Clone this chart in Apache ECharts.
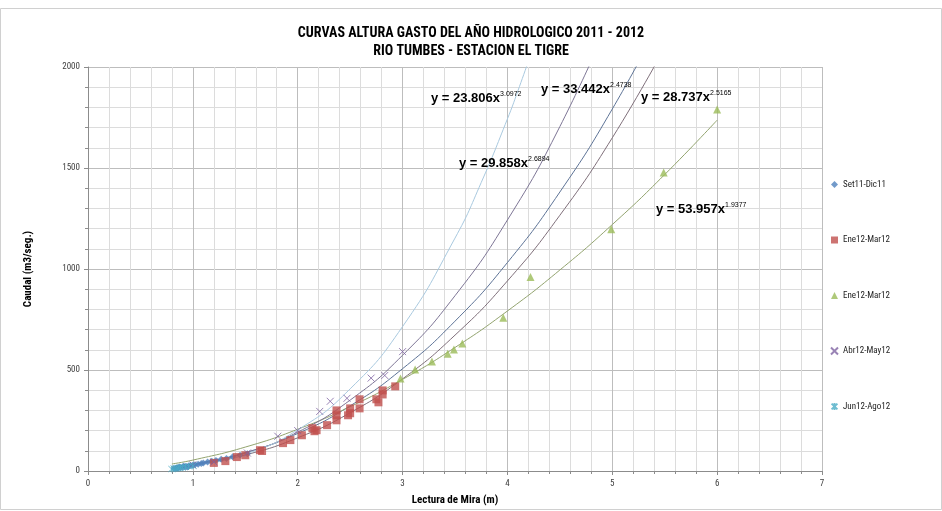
<!DOCTYPE html>
<html>
<head>
<meta charset="utf-8">
<script src="https://cdn.jsdelivr.net/npm/echarts@6/dist/echarts.min.js"></script>
<style>
html,body{margin:0;padding:0;background:#fff;}
#chart{width:942px;height:511px;}
</style>
</head>
<body>
<div id="chart"></div>
<script>
// ---- Data ----
const titleLines = ['CURVAS ALTURA GASTO DEL AÑO HIDROLOGICO 2011 - 2012', 'RIO TUMBES - ESTACION EL TIGRE'];
const xAxisName = 'Lectura de Mira (m)';
const yAxisName = 'Caudal (m3/seg.)';
const xTicks = [0, 1, 2, 3, 4, 5, 6, 7];
const yTicks = [0, 500, 1000, 1500, 2000];

const seriesNames = ['Set11-Dic11', 'Ene12-Mar12', 'Ene12-Mar12 ', 'Abr12-May12', 'Jun12-Ago12'];

const setDic = [[0.82,12],[0.84,14],[0.85,16],[0.86,15],[0.87,20],[0.88,17],[0.9,19],[0.91,24],[0.92,21],[0.94,22],[0.95,20],[0.96,25],[0.98,27],[1.0,29],[1.02,31],[1.05,34],[1.08,37],[1.1,40],[1.14,44],[1.18,48],[1.22,52],[1.27,58],[1.32,62],[1.38,70],[1.45,78],[1.52,85]];
const eneMarA = [[1.2,40],[1.31,49],[1.42,69],[1.5,78],[1.64,103],[1.66,99],[1.86,138],[1.93,153],[2.04,177],[2.14,212],[2.16,197],[2.18,202],[2.28,227],[2.37,300],[2.37,276],[2.37,251],[2.48,276],[2.5,310],[2.5,286],[2.59,355],[2.59,310],[2.75,355],[2.77,340],[2.81,399],[2.81,379],[2.93,419]];
const eneMarB = [[2.98,458],[3.12,502],[3.28,542],[3.43,581],[3.49,601],[3.57,631],[3.96,759],[4.22,960],[4.99,1197],[5.49,1478],[6.0,1790]];
const abrMay = [[1.0,30],[1.2,45],[1.52,89],[1.81,172],[2.0,200],[2.21,295],[2.31,345],[2.47,360],[2.7,460],[2.83,473],[3.0,591]];
const junAgo = [[0.8,10],[0.82,12],[0.84,13],[0.86,15],[0.88,17],[0.9,18],[0.93,20],[0.96,23],[1.0,26]];

// trend curves
const trendSetDic = [[0.8,19.3],[1,33.4],[1.5,91.2],[2,185.8],[2.5,322.6],[3,506.5],[3.5,741.7],[4,1032],[4.5,1381],[5,1792],[5.5,2268]];
const trendEneMarA = [[0.8,16.4],[1,28.7],[1.5,79.7],[2,164.4],[2.5,288.3],[3,456.1],[3.5,672.5],[4,940.9],[4.5,1265.9],[5,1649.5],[5.5,2096]];
const trendEneMarB = [[0.8,35],[1,54],[1.5,118.4],[2,206.7],[2.5,318.5],[3,453.5],[3.5,611.4],[4,792.1],[4.5,995],[5,1220],[5.5,1467.6],[6,1737]];
const trendAbrMay = [[0.8,16.4],[1,29.9],[1.5,88.8],[2,192.6],[2.5,351],[3,573],[3.5,867.7],[4,1242.7],[4.5,1705],[5,2264]];
const trendJunAgo = [[0.8,11.9],[1,23.8],[1.5,83.6],[2,203.7],[2.5,406.6],[3,715],[3.5,1153],[3.75,1428],[4,1743],[4.1,1882],[4.25,2103]];

const equations = [
  ['y = 23.806x', '3.0972'],
  ['y = 33.442x', '2.4738'],
  ['y = 28.737x', '2.5165'],
  ['y = 29.858x', '2.6894'],
  ['y = 53.957x', '1.9377']
];

// ---- Chart ----
const FONT = "'Liberation Sans Narrow','Roboto Condensed','Liberation Sans','Noto Sans',sans-serif";
const EQFONT = "'Liberation Sans','Noto Sans',sans-serif";
const chart = echarts.init(document.getElementById('chart'), null, {renderer: 'canvas'});

const xPath = 'path://M0,0L10,10M10,0L0,10';
const starPath = 'path://M0,0L10,10M10,0L0,10M5,-1L5,11';

function trend(data, color) {
  return {
    type: 'line', data: data, smooth: 0.5, showSymbol: false,
    silent: true, clip: true, z: 1,
    lineStyle: {color: color, width: 1}
  };
}

const eqPos = [[431, 98], [541, 89], [641, 97], [459, 163], [656, 209]];

const option = {
  backgroundColor: '#fff',
  animation: false,
  title: {
    text: titleLines.join('\n'),
    left: 'center', top: 19,
    textStyle: {fontFamily: FONT, fontSize: 14, fontWeight: 'bold', color: '#000', lineHeight: 18}
  },
  grid: {left: 88, right: 120, top: 67, bottom: 38, containLabel: false},
  legend: {
    orient: 'vertical', left: 830, top: 180, padding: 0, itemGap: 46.5, itemWidth: 7, itemHeight: 7,
    textStyle: {fontFamily: FONT, fontSize: 9, color: '#222'},
    data: seriesNames
  },
  xAxis: {
    type: 'value', min: xTicks[0], max: xTicks[xTicks.length - 1], interval: 1,
    name: xAxisName, nameLocation: 'middle', nameGap: 24,
    nameTextStyle: {fontFamily: FONT, fontSize: 11, fontWeight: 'bold', color: '#000'},
    axisLine: {show: true, onZero: false, lineStyle: {color: '#8c8c8c'}},
    axisTick: {show: true, length: 4, lineStyle: {color: '#8c8c8c'}},
    minorTick: {show: true, splitNumber: 5, length: 3, lineStyle: {color: '#8c8c8c'}},
    axisLabel: {fontFamily: FONT, fontSize: 9, color: '#404040', margin: 8, formatter: function (v) { return String(v); }},
    splitLine: {show: true, lineStyle: {color: '#bdbdbd', width: 1}},
    minorSplitLine: {show: true, lineStyle: {color: '#dcdcdc', width: 1}}
  },
  yAxis: {
    type: 'value', min: yTicks[0], max: yTicks[yTicks.length - 1], interval: 500,
    name: yAxisName, nameLocation: 'middle', nameGap: 54, nameRotate: 90,
    nameTextStyle: {fontFamily: FONT, fontSize: 11, fontWeight: 'bold', color: '#000'},
    axisLine: {show: true, onZero: false, lineStyle: {color: '#8c8c8c'}},
    axisTick: {show: true, length: 4, lineStyle: {color: '#8c8c8c'}},
    minorTick: {show: true, splitNumber: 5, length: 3, lineStyle: {color: '#8c8c8c'}},
    axisLabel: {fontFamily: FONT, fontSize: 9, color: '#404040', margin: 8, formatter: function (v) { return String(v); }},
    splitLine: {show: true, lineStyle: {color: '#bdbdbd', width: 1}},
    minorSplitLine: {show: true, lineStyle: {color: '#dcdcdc', width: 1}}
  },
  series: [
    trend(trendSetDic, '#5d7396'),
    trend(trendEneMarA, '#7f6f7a'),
    trend(trendEneMarB, '#93a46f'),
    trend(trendAbrMay, '#7d7595'),
    trend(trendJunAgo, '#a9c9df'),
    {name: seriesNames[0], type: 'scatter', data: setDic, symbol: 'diamond', symbolSize: 7, z: 3,
     itemStyle: {color: '#4f81bd'}},
    {name: seriesNames[1], type: 'scatter', data: eneMarA, symbol: 'rect', symbolSize: 8, z: 3,
     itemStyle: {color: '#c0504d'}},
    {name: seriesNames[2], type: 'scatter', data: eneMarB, symbol: 'triangle', symbolSize: 8, z: 3,
     itemStyle: {color: '#9bbb59'}},
    {name: seriesNames[3], type: 'scatter', data: abrMay, symbol: xPath, symbolSize: 7, z: 3,
     itemStyle: {color: 'rgba(0,0,0,0)', borderColor: '#8064a2', borderWidth: 1}},
    {name: seriesNames[4], type: 'scatter', data: junAgo, symbol: starPath, symbolSize: 7, z: 3,
     itemStyle: {color: 'rgba(0,0,0,0)', borderColor: '#4bacc6', borderWidth: 1}}
  ],
  graphic: [
    {type: 'rect', shape: {x: 0.5, y: 8.5, width: 941, height: 501}, style: {fill: 'none', stroke: '#d0d0d0', lineWidth: 1}, silent: true, z: -10}
  ].concat(equations.map(function (e, i) {
    return {
      type: 'text', left: eqPos[i][0], top: eqPos[i][1] - 7, z: 10,
      style: {
        text: '{a|' + e[0] + '}{b|' + e[1] + '}',
        rich: {
          a: {fontFamily: EQFONT, fontSize: 13, fontWeight: 'bold', color: '#000', lineHeight: 14, verticalAlign: 'bottom'},
          b: {fontFamily: EQFONT, fontSize: 7, color: '#000', lineHeight: 14, verticalAlign: 'top'}
        }
      }
    };
  }))
};

chart.setOption(option);
</script>
</body>
</html>
